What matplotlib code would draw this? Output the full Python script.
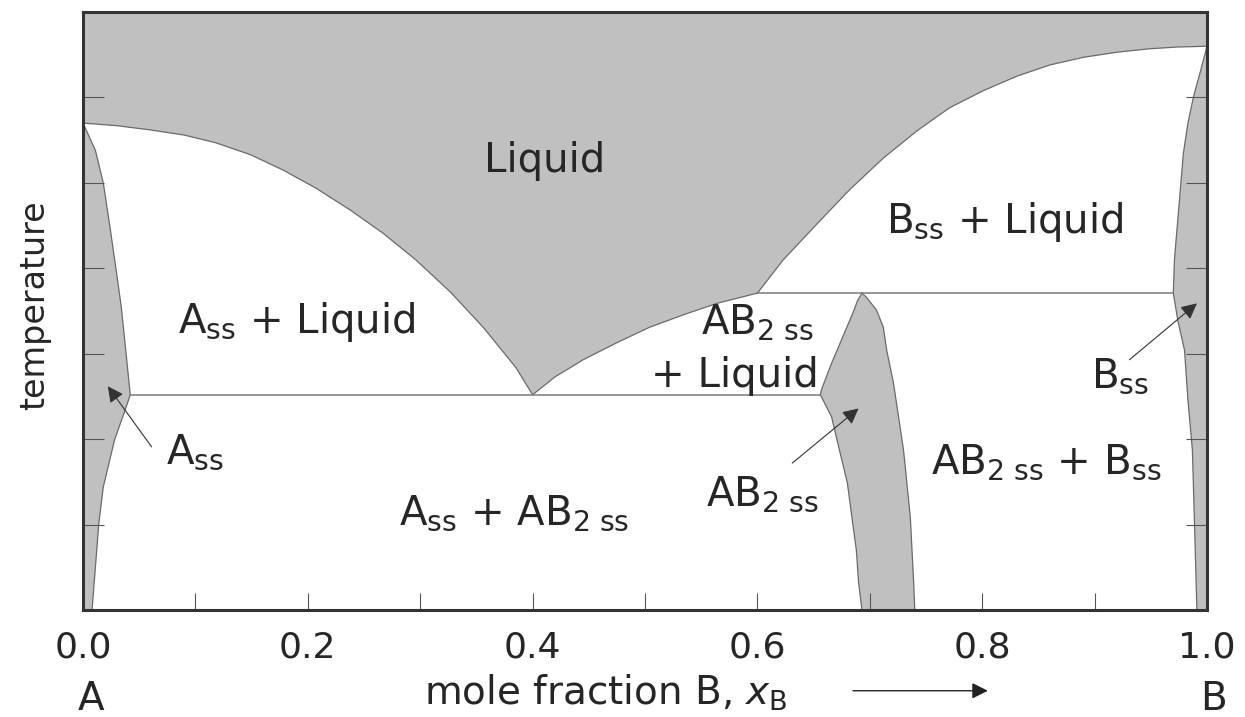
import matplotlib.pyplot as plt
from matplotlib.ticker import MultipleLocator, FormatStrFormatter

plt.rcParams['font.family'] = ['DejaVu Sans']
plt.rcParams['mathtext.fontset'] = 'dejavusans'

GRAY = '#c0c0c0'
EDGE = '#6a6a6a'
INK = '#262626'

# liquidus A side (x = mole fraction B, T in arbitrary units 0..7)
liq_a_x = [0.0, 0.03, 0.06, 0.09, 0.118, 0.149, 0.178, 0.207, 0.238, 0.267, 0.296, 0.327, 0.356, 0.385, 0.40]
liq_a_T = [5.70, 5.67, 5.62, 5.56, 5.47, 5.33, 5.15, 4.94, 4.68, 4.41, 4.10, 3.72, 3.31, 2.84, 2.52]
# liquidus of AB2 (eutectic -> peritectic)
liq_ab2_x = [0.40, 0.42, 0.445, 0.475, 0.504, 0.535, 0.564, 0.585, 0.60]
liq_ab2_T = [2.52, 2.73, 2.93, 3.13, 3.31, 3.46, 3.59, 3.66, 3.71]
# liquidus B side
liq_b_x = [0.60, 0.623, 0.653, 0.682, 0.712, 0.742, 0.771, 0.801, 0.831, 0.860, 0.890, 0.920, 0.949, 0.973, 1.0]
liq_b_T = [3.71, 4.10, 4.52, 4.92, 5.29, 5.61, 5.88, 6.08, 6.25, 6.38, 6.47, 6.53, 6.57, 6.59, 6.60]

# A solid solution boundary (solidus then solvus)
a_ss_x = [0.0, 0.011, 0.018, 0.024, 0.029, 0.034, 0.038, 0.042, 0.039, 0.028, 0.018, 0.014, 0.011, 0.008]
a_ss_T = [5.70, 5.38, 5.00, 4.48, 4.02, 3.55, 3.04, 2.52, 2.40, 1.99, 1.44, 1.01, 0.50, 0.0]

# AB2 solid solution: left side top->bottom, right side bottom->top
ab2_left_x = [0.693, 0.689, 0.685, 0.676, 0.666, 0.657, 0.656, 0.666, 0.673, 0.680, 0.684, 0.688, 0.690, 0.693]
ab2_left_T = [3.71, 3.62, 3.48, 3.20, 2.89, 2.58, 2.52, 2.26, 1.87, 1.49, 1.09, 0.70, 0.32, 0.0]
ab2_right_x = [0.740, 0.739, 0.736, 0.730, 0.721, 0.715, 0.712, 0.706, 0.697, 0.693]
ab2_right_T = [0.0, 0.32, 1.09, 1.87, 2.66, 3.04, 3.31, 3.51, 3.66, 3.71]

# B solid solution boundary
b_ss_x = [1.0, 0.994, 0.988, 0.983, 0.979, 0.974, 0.971, 0.970, 0.974, 0.980, 0.983, 0.987, 0.989, 0.991]
b_ss_T = [6.60, 6.30, 6.01, 5.70, 5.35, 4.57, 4.10, 3.71, 3.39, 3.04, 2.46, 1.87, 0.94, 0.0]

# invariant lines
eut_x = [0.042, 0.656]
eut_T = 2.52
peri_x = [0.60, 0.970]
peri_T = 3.71

T_MAX = 7

# region labels: text, x, T (baseline)
labels = [
    ('Liquid', 0.411, 5.13),
    (r'A$_{\mathregular{ss}}$ + Liquid', 0.190, 3.24),
    (r'B$_{\mathregular{ss}}$ + Liquid', 0.820, 4.41),
    (r'AB$_{\mathregular{2\ ss}}$', 0.600, 3.24),
    ('+ Liquid', 0.580, 2.61),
    (r'AB$_{\mathregular{2\ ss}}$', 0.604, 1.23),
    (r'AB$_{\mathregular{2\ ss}}$ + B$_{\mathregular{ss}}$', 0.857, 1.60),
    (r'A$_{\mathregular{ss}}$ + AB$_{\mathregular{2\ ss}}$', 0.384, 1.00),
    (r'A$_{\mathregular{ss}}$', 0.100, 1.72),
    (r'B$_{\mathregular{ss}}$', 0.923, 2.61),
]
# arrows: tip (x, T), tail (x, T)
arrows = [
    ((0.022, 2.62), (0.061, 1.91)),
    ((0.690, 2.36), (0.631, 1.72)),
    ((0.991, 3.59), (0.931, 2.93)),
]

fig = plt.figure(figsize=(12.45, 7.17), dpi=100)
ax = fig.add_axes([0.0667, 0.1492, 0.9028, 0.8340])
ax.set_xlim(0, 1)
ax.set_ylim(0, T_MAX)

# liquid field
lx = [0.0] + liq_a_x + liq_ab2_x[1:] + liq_b_x[1:] + [1.0]
lT = [T_MAX] + liq_a_T + liq_ab2_T[1:] + liq_b_T[1:] + [T_MAX]
ax.fill(lx, lT, color=GRAY, lw=0, zorder=1)
ax.plot(lx[1:-1], lT[1:-1], color=EDGE, lw=0.9, zorder=1.5)

# solid solutions
ax.fill(a_ss_x + [0.0], a_ss_T + [0.0], color=GRAY, lw=0, zorder=1)
ax.plot(a_ss_x, a_ss_T, color=EDGE, lw=0.9, zorder=1.5)

ax.fill(ab2_left_x + ab2_right_x, ab2_left_T + ab2_right_T, color=GRAY, lw=0, zorder=1)
ax.plot(ab2_left_x, ab2_left_T, color=EDGE, lw=0.9, zorder=1.5)
ax.plot(ab2_right_x, ab2_right_T, color=EDGE, lw=0.9, zorder=1.5)

ax.fill(b_ss_x + [1.0], b_ss_T + [0.0], color=GRAY, lw=0, zorder=1)
ax.plot(b_ss_x, b_ss_T, color=EDGE, lw=0.9, zorder=1.5)

# eutectic and peritectic lines
ax.plot(eut_x, [eut_T, eut_T], color='#7a7a7a', lw=1.1, zorder=1.5)
ax.plot(peri_x, [peri_T, peri_T], color='#7a7a7a', lw=1.1, zorder=1.5)

for txt, x, T in labels:
    ax.text(x, T, txt, fontsize=29, color=INK, ha='center', va='baseline', zorder=3)

for tip, tail in arrows:
    ax.annotate('', xy=tip, xytext=tail,
                arrowprops=dict(arrowstyle='-|>', color='#333333', lw=0.8,
                                mutation_scale=24, shrinkA=0, shrinkB=0), zorder=3)

# axes styling
for s in ax.spines.values():
    s.set_linewidth(2.2)
    s.set_color('#333333')
    s.set_zorder(4)
ax.xaxis.set_major_locator(MultipleLocator(0.2))
ax.xaxis.set_minor_locator(MultipleLocator(0.1))
ax.xaxis.set_major_formatter(FormatStrFormatter('%.1f'))
ax.yaxis.set_major_locator(MultipleLocator(1))
ax.tick_params(axis='x', which='both', direction='in', length=12, width=0.8,
               color='#555555', top=False, labelsize=26, labelcolor=INK, pad=15)
ax.tick_params(axis='y', which='both', direction='in', length=15, width=0.8,
               color='#555555', left=True, right=True, labelleft=False)

ax.text(-0.043, 0.51, 'temperature', transform=ax.transAxes, rotation=90,
        fontsize=24, color=INK, ha='center', va='center')

xt = ax.get_xaxis_transform()
ax.text(0.007, -0.167, 'A', transform=xt, fontsize=28, color=INK, ha='center', va='baseline')
ax.text(1.006, -0.167, 'B', transform=xt, fontsize=28, color=INK, ha='center', va='baseline')
ax.text(0.465, -0.159, r'mole fraction B, $x_{\mathregular{B}}$', transform=xt,
        fontsize=28, color=INK, ha='center', va='baseline')
ax.annotate('', xy=(0.805, -0.135), xytext=(0.685, -0.135), xycoords=xt, textcoords=xt,
            arrowprops=dict(arrowstyle='-|>', color='#222222', lw=1.0,
                            mutation_scale=24, shrinkA=0, shrinkB=0),
            annotation_clip=False)

fig.savefig('out.png', dpi=100)
